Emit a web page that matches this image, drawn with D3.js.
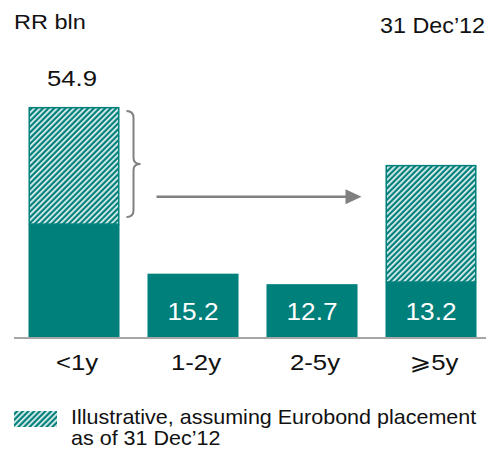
<!DOCTYPE html>
<html>
<head>
<meta charset="utf-8">
<script src="https://cdn.jsdelivr.net/npm/d3@7"></script>
<style>
  html, body { margin: 0; padding: 0; background: #ffffff; }
  svg { display: block; font-family: "Liberation Sans", Arial, sans-serif; }
</style>
</head>
<body>
<svg id="chart" width="488" height="453"></svg>
<script>
// Debt maturity buckets, RR bln
const categories = ["<1y", "1-2y", "2-5y", "\u2A7E5y"];
const baseValues = [27.0, 15.2, 12.7, 13.2];      // solid part of each bar
const eurobondValues = [27.9, 0, 0, 0];            // hatched part, current
const eurobondShifted = [0, 0, 0, 27.9];           // hatched part after placement
const totalLabels = ["54.9", "", "", ""];          // total shown above a bar
const baseLabels = ["", "15.2", "12.7", "13.2"];   // value printed inside a bar
const unitLabel = "RR bln";
const dateLabel = "31 Dec\u201912";
const legendLines = ["Illustrative, assuming Eurobond placement", "as of 31 Dec\u201912"];

const teal = "#00807b";
const grey = "#808080";
const ink = "#111111";

const svg = d3.select("#chart");

const x = d3.scaleBand()
  .domain(categories)
  .range([14.5, 490.5])
  .paddingInner(0.235)
  .paddingOuter(0.1175);

const y = d3.scaleLinear()
  .domain([0, 60])
  .range([337.5, 85.5]);

// the deck's text is set slightly wide, so glyphs get a horizontal stretch
const wide = (sel, px, py, sx) =>
  sel.attr("transform", `translate(${px},${py}) scale(${sx},1)`);

// hatch pattern: white diagonal stripes on teal
const defs = svg.append("defs");
const pat = defs.append("pattern")
  .attr("id", "hatch")
  .attr("patternUnits", "userSpaceOnUse")
  .attr("width", 4)
  .attr("height", 4)
  .attr("patternTransform", "rotate(45)");
pat.append("rect").attr("width", 4).attr("height", 4).attr("fill", teal);
pat.append("rect").attr("x", 0).attr("width", 1.7).attr("height", 4).attr("fill", "#ffffff").attr("opacity", 0.92);

const bars = categories.map((c, i) => ({
  c, base: baseValues[i], hatch: eurobondValues[i] + eurobondShifted[i],
  total: totalLabels[i], inner: baseLabels[i]
}));

// solid parts
svg.append("g").selectAll("rect")
  .data(bars)
  .join("rect")
  .attr("x", d => x(d.c))
  .attr("width", x.bandwidth())
  .attr("y", d => y(d.base))
  .attr("height", d => y(0) - y(d.base))
  .attr("fill", teal);

// hatched parts
svg.append("g").selectAll("rect")
  .data(bars.filter(d => d.hatch > 0))
  .join("rect")
  .attr("x", d => x(d.c) + 0.75)
  .attr("width", x.bandwidth() - 1.5)
  .attr("y", d => y(d.base + d.hatch) + 0.75)
  .attr("height", d => y(d.base) - y(d.base + d.hatch) - 0.75)
  .attr("fill", "url(#hatch)")
  .attr("stroke", teal)
  .attr("stroke-width", 1.5);

// baseline
svg.append("line")
  .attr("x1", 14).attr("x2", 486)
  .attr("y1", y(0) + 0.5).attr("y2", y(0) + 0.5)
  .attr("stroke", "#a6a6a6")
  .attr("stroke-width", 2);

// values inside bars
svg.append("g").selectAll("text")
  .data(bars.filter(d => d.inner))
  .join("text")
  .each(function (d) {
    wide(d3.select(this), x(d.c) + x.bandwidth() / 2, y(0) - 17.5, 1.14);
  })
  .attr("text-anchor", "middle")
  .attr("fill", "#ffffff")
  .attr("font-size", 23)
  .text(d => d.inner);

// totals above bars
svg.append("g").selectAll("text")
  .data(bars.filter(d => d.total))
  .join("text")
  .each(function (d) {
    wide(d3.select(this), x(d.c) + x.bandwidth() / 2 - 2, y(d.base + d.hatch) - 21, 1.12);
  })
  .attr("text-anchor", "middle")
  .attr("fill", ink)
  .attr("font-size", 23)
  .text(d => d.total);

// category labels
svg.append("g").selectAll("text")
  .data(categories)
  .join("text")
  .each(function (d) {
    wide(d3.select(this), x(d) + x.bandwidth() / 2 + 3, y(0) + 32, 1.12);
  })
  .attr("text-anchor", "middle")
  .attr("fill", ink)
  .attr("font-size", 23)
  .style("font-family", "'Liberation Sans', 'DejaVu Sans', sans-serif")
  .text(d => d);

// header texts
wide(svg.append("text"), 14, 29, 1.12)
  .attr("font-size", 21)
  .attr("fill", ink)
  .text(unitLabel);

wide(svg.append("text"), 485, 33, 1.06)
  .attr("text-anchor", "end")
  .attr("font-size", 22)
  .attr("fill", ink)
  .text(dateLabel);

// brace next to the hatched part of the first bar
const b0 = bars[0];
const bx = x(b0.c) + x.bandwidth() + 7;
const bTop = y(b0.base + b0.hatch) + 4;
const bBot = y(b0.base) - 7;
const bMid = (bTop + bBot) / 2;
const brace = d3.path();
brace.moveTo(bx, bTop);
brace.quadraticCurveTo(bx + 7, bTop, bx + 7, bTop + 7);
brace.lineTo(bx + 7, bMid - 6);
brace.quadraticCurveTo(bx + 7, bMid, bx + 14, bMid);
brace.quadraticCurveTo(bx + 7, bMid, bx + 7, bMid + 6);
brace.lineTo(bx + 7, bBot - 7);
brace.quadraticCurveTo(bx + 7, bBot, bx, bBot);
svg.append("path")
  .attr("d", brace.toString())
  .attr("fill", "none")
  .attr("stroke", grey)
  .attr("stroke-width", 2);

// arrow towards the last bar
const ay = y(33.5);
const ax1 = x(categories[0]) + x.bandwidth() + 37;
const ax2 = x(categories[3]) - 24;
svg.append("line")
  .attr("x1", ax1).attr("x2", ax2 - 14)
  .attr("y1", ay).attr("y2", ay)
  .attr("stroke", grey)
  .attr("stroke-width", 2.5);
svg.append("path")
  .attr("d", `M${ax2},${ay} L${ax2 - 16},${ay - 7.5} L${ax2 - 16},${ay + 7.5} Z`)
  .attr("fill", grey);

// legend
svg.append("rect")
  .attr("x", 14).attr("y", 411)
  .attr("width", 43).attr("height", 16)
  .attr("fill", "url(#hatch)");

const lg = wide(svg.append("text"), 71, 424, 1.05)
  .attr("font-size", 20.5)
  .attr("fill", ink);
lg.selectAll("tspan")
  .data(legendLines)
  .join("tspan")
  .attr("x", 0)
  .attr("dy", (d, i) => i === 0 ? 0 : 21)
  .text(d => d);
</script>
</body>
</html>
